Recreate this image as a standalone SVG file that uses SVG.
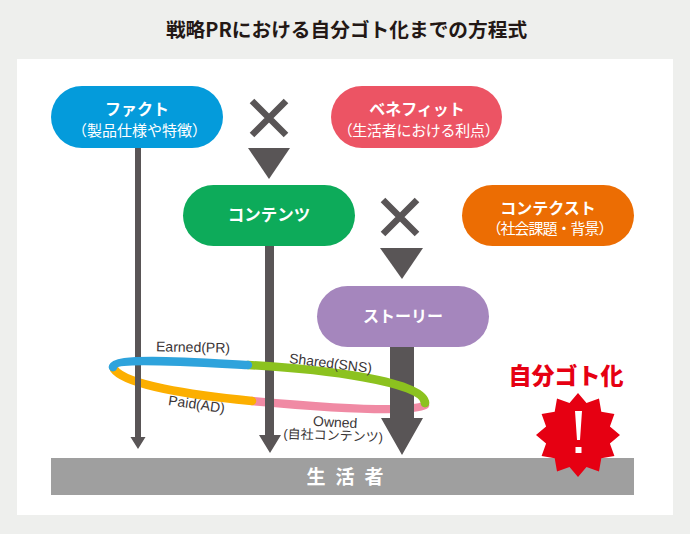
<svg xmlns="http://www.w3.org/2000/svg" width="690" height="534" viewBox="0 0 690 534">
<style>
text{font-family:"Noto Sans CJK JP","Noto Sans",sans-serif;text-anchor:middle}
.h{fill:#fff;font-size:16px;font-weight:700}
.s{fill:#fff;font-size:15px}
.l{fill:#3a3536;font-size:14px;font-family:"Liberation Sans","Noto Sans CJK JP",sans-serif}
.d{fill:#595556}
.x{stroke:#595556;stroke-width:6.500;fill:none}
.r{fill:none;stroke-width:8.5;stroke-linecap:round}
</style>
<rect width="690" height="534" fill="#eeefed"/>
<rect x="17" y="59" width="656" height="456" fill="#fff"/>
<text x="346.500" y="37" font-size="19.700" font-weight="700" fill="#231815">戦略PRにおける自分ゴト化までの方程式</text>
<g id="ground"><rect x="51" y="458" width="583" height="37" fill="#9f9f9f"/><text x="350" y="484" font-size="19" font-weight="700" fill="#fff" letter-spacing="10">生活者</text></g>
<g id="connectors">
<path class="r" stroke="#f08aa4" d="M425,405C412,413 330,408 252,401"/>
<path class="r" stroke="#fcaf00" stroke-linecap="butt" d="M252,401C190,395 125,385 114,369"/>
<path class="d" d="M135,148H141V437H145.500L138,449L130.500,437H135Z"/>
<path class="d" d="M265,246H274V435H281L270,453L259,435H265Z"/>
<path class="d" d="M390,347H414V418H423L402,455L381,418H390Z"/>
<path class="r" stroke="#8cc21f" stroke-linecap="butt" d="M248,365C320,369 425,381 425,403"/>
<path class="r" stroke="#2ea3dc" stroke-linecap="butt" d="M113,367C115,357 190,362 248,365"/>
<circle cx="113" cy="367" r="4.200" fill="#2ea3dc"/>
<circle cx="425" cy="403" r="4.200" fill="#8cc21f"/>
</g>
<g id="fact"><rect x="51" y="86" width="172" height="62" rx="31" fill="#049bdb"/><text class="h" x="137" y="115">ファクト</text><text class="s" x="139.500" y="136">（製品仕様や特徴）</text></g>
<g id="benefit"><rect x="331" y="86" width="171" height="62" rx="31" fill="#ec5464"/><text class="h" x="417" y="115">ベネフィット</text><text class="s" x="418.500" y="136" letter-spacing="-.3">（生活者における利点）</text></g>
<g id="content"><rect x="183" y="185" width="172" height="61" rx="30.500" fill="#0dab5a"/><text class="h" x="269" y="221" style="font-size:16.500px">コンテンツ</text></g>
<g id="context"><rect x="462" y="185" width="172" height="61" rx="30.500" fill="#ec6d03"/><text class="h" x="548" y="214">コンテクスト</text><text class="s" x="549.500" y="234" letter-spacing="-1">（社会課題・背景）</text></g>
<g id="story"><rect x="317" y="286" width="172" height="61" rx="30.500" fill="#a586bd"/><text class="h" x="403" y="322">ストーリー</text></g>
<g id="op1"><path class="x" d="M252,101L286,135M286,101L252,135"/><path class="d" d="M248,148H290L269,179Z"/></g>
<g id="op2"><path class="x" d="M383,200L417,234M417,200L383,234"/><path class="d" d="M380,248H423L402,279Z"/></g>
<text class="l" x="193" y="352" transform="rotate(1 193 352)">Earned(PR)</text>
<text class="l" x="330" y="368" transform="rotate(7 330 368)">Shared(SNS)</text>
<text class="l" x="196" y="409" transform="rotate(8 196 409)">Paid(AD)</text>
<text class="l" x="335" y="427" transform="rotate(3 335 427)">Owned</text>
<text class="l" x="333" y="440" transform="rotate(2 333 440)" style="font-size:13px">(自社コンテンツ)</text>
<g id="jibun"><text x="566" y="384" font-size="23" font-weight="900" fill="#e60012">自分ゴト化</text>
<path fill="#e60012" d="M578,393L586.500,403.100L599,398.600L601.300,411.700L614.400,414L609.900,426.500L620,435L609.900,443.500L614.400,456L601.300,458.300L599,471.400L586.500,466.900L578,477L569.500,466.900L557,471.400L554.700,458.300L541.600,456L546.100,443.500L536,435L546.100,426.500L541.600,414L554.700,411.700L557,398.600L569.500,403.100Z"/>
<path fill="#fff" d="M575,411H582L580,440H577ZM575.500,447H581.500V453H575.500Z"/></g>
</svg>
